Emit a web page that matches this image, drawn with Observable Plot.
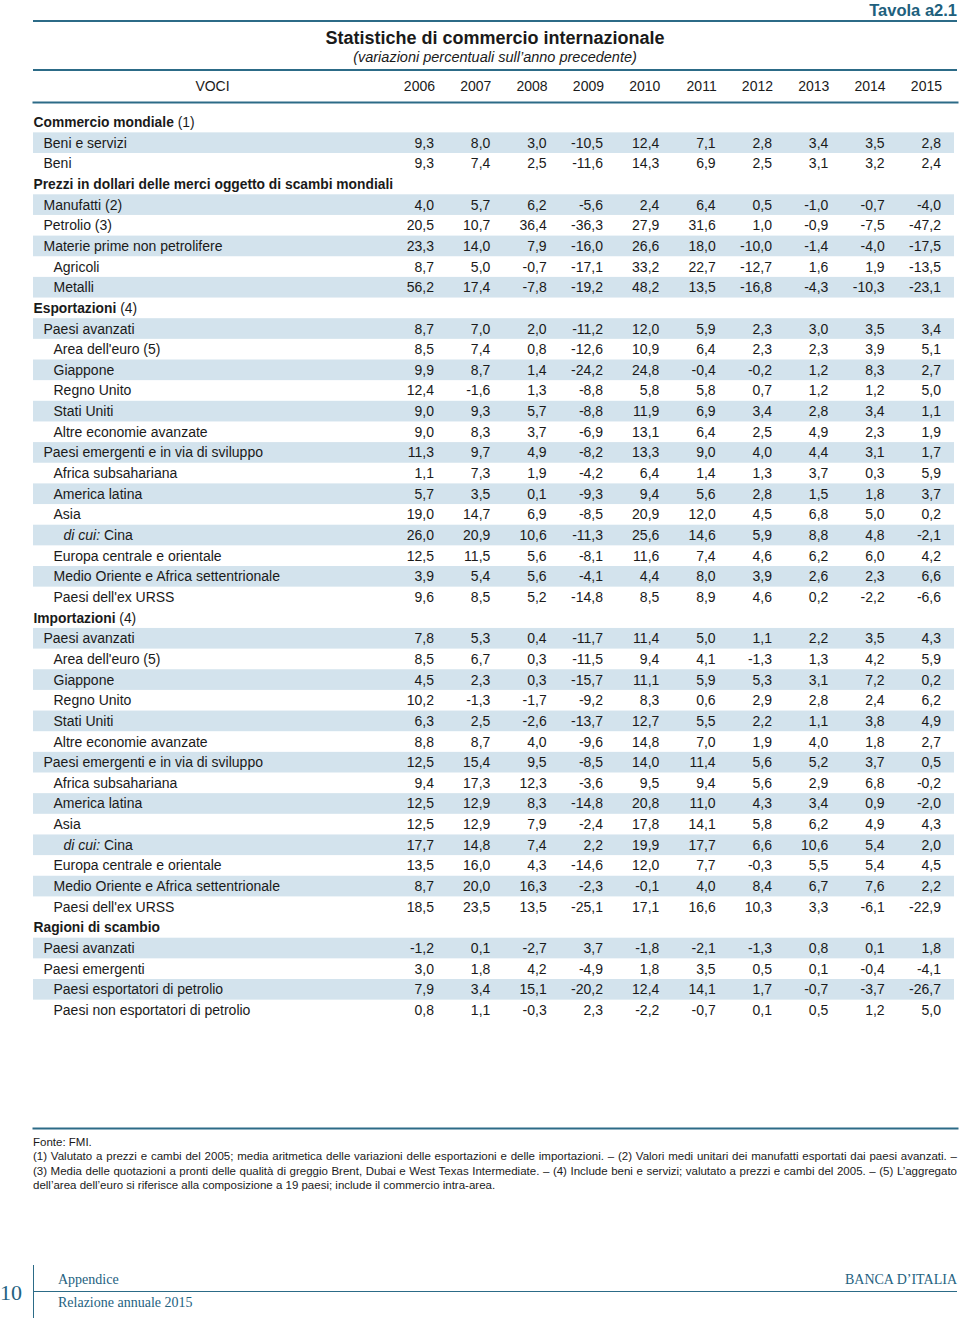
<!DOCTYPE html>
<html>
<head>
<meta charset="utf-8">
<script src="https://cdn.jsdelivr.net/npm/d3@7"></script>
<script src="https://cdn.jsdelivr.net/npm/@observablehq/plot@0.6"></script>
<style>
html,body{margin:0;padding:0;background:#fff;}
body{width:960px;height:1321px;position:relative;overflow:hidden;font-family:"Liberation Sans",Arial,Helvetica,sans-serif;color:#1a1a1a;}
.abs{position:absolute;}
#tavola{right:3px;top:0px;font-weight:bold;font-size:16.5px;line-height:20px;color:#20607d;}
.rule{position:absolute;left:33px;width:924px;height:2px;background:#2c6b87;}
#title{left:33px;width:924px;top:27px;text-align:center;font-weight:bold;font-size:18px;line-height:22px;}
#subtitle{left:33px;width:924px;top:48px;text-align:center;font-style:italic;font-size:14.5px;line-height:18px;}
#chart{left:0;top:72px;}
#notes{left:33px;width:924px;top:1135px;font-family:"Liberation Sans",Arial,sans-serif;font-size:11.5px;line-height:14.3px;color:#1a1a1a;}
#notes div{text-align:justify;text-align-last:justify;white-space:nowrap;}
#notes div.left{text-align:left;text-align-last:left;}
.serif{font-family:"Liberation Serif","DejaVu Serif",serif;color:#24627f;}
#pagenum{left:0px;top:1280px;font-size:22px;line-height:26px;}
#vline{left:33px;top:1265px;width:1px;height:53px;background:#2c6b87;}
#hline{left:33px;top:1291px;width:924px;height:1px;background:#2c6b87;}
#app{left:58px;top:1271px;font-size:14px;line-height:18px;}
#rel{left:58px;top:1294px;font-size:14px;line-height:18px;}
#banca{right:3px;top:1271px;font-size:14px;line-height:18px;}
</style>
</head>
<body>
<div id="tavola" class="abs">Tavola a2.1</div>
<div class="rule" style="top:20px"></div>
<div id="title" class="abs">Statistiche di commercio internazionale</div>
<div id="subtitle" class="abs">(variazioni percentuali sull’anno precedente)</div>
<div class="rule" style="top:69px"></div>
<div id="chart" class="abs"></div>
<div id="notes" class="abs">
<div class="left">Fonte: FMI.</div>
<div>(1) Valutato a prezzi e cambi del 2005; media aritmetica delle variazioni delle esportazioni e delle importazioni. – (2) Valori medi unitari dei manufatti esportati dai paesi avanzati. –</div>
<div>(3) Media delle quotazioni a pronti delle qualità di greggio Brent, Dubai e West Texas Intermediate. – (4) Include beni e servizi; valutato a prezzi e cambi del 2005. – (5) L’aggregato</div>
<div class="left">dell’area dell’euro si riferisce alla composizione a 19 paesi; include il commercio intra-area.</div>
</div>
<div id="pagenum" class="abs serif">10</div>
<div id="vline" class="abs"></div>
<div id="hline" class="abs"></div>
<div id="app" class="abs serif">Appendice</div>
<div id="rel" class="abs serif">Relazione annuale 2015</div>
<div id="banca" class="abs serif">BANCA D’ITALIA</div>
<script>
// ---- Data ----
const years = [2006, 2007, 2008, 2009, 2010, 2011, 2012, 2013, 2014, 2015];

const rowLabels = [
  "Commercio mondiale (1)",
  "Beni e servizi",
  "Beni",
  "Prezzi in dollari delle merci oggetto di scambi mondiali",
  "Manufatti (2)",
  "Petrolio (3)",
  "Materie prime non petrolifere",
  "Agricoli",
  "Metalli",
  "Esportazioni (4)",
  "Paesi avanzati",
  "Area dell'euro (5)",
  "Giappone",
  "Regno Unito",
  "Stati Uniti",
  "Altre economie avanzate",
  "Paesi emergenti e in via di sviluppo",
  "Africa subsahariana",
  "America latina",
  "Asia",
  "di cui: Cina",
  "Europa centrale e orientale",
  "Medio Oriente e Africa settentrionale",
  "Paesi dell'ex URSS",
  "Importazioni (4)",
  "Paesi avanzati",
  "Area dell'euro (5)",
  "Giappone",
  "Regno Unito",
  "Stati Uniti",
  "Altre economie avanzate",
  "Paesi emergenti e in via di sviluppo",
  "Africa subsahariana",
  "America latina",
  "Asia",
  "di cui: Cina",
  "Europa centrale e orientale",
  "Medio Oriente e Africa settentrionale",
  "Paesi dell'ex URSS",
  "Ragioni di scambio",
  "Paesi avanzati",
  "Paesi emergenti",
  "Paesi esportatori di petrolio",
  "Paesi non esportatori di petrolio"
];

// 0 = section header, 1..3 = indentation level
const rowLevels = [
  0, 1, 1,
  0, 1, 1, 1, 2, 2,
  0, 1, 2, 2, 2, 2, 2, 1, 2, 2, 2, 3, 2, 2, 2,
  0, 1, 2, 2, 2, 2, 2, 1, 2, 2, 2, 3, 2, 2, 2,
  0, 1, 1, 2, 2
];

const commercioMondiale = [
  [9.3, 8.0, 3.0, -10.5, 12.4, 7.1, 2.8, 3.4, 3.5, 2.8],
  [9.3, 7.4, 2.5, -11.6, 14.3, 6.9, 2.5, 3.1, 3.2, 2.4]
];

const prezziDollari = [
  [4.0, 5.7, 6.2, -5.6, 2.4, 6.4, 0.5, -1.0, -0.7, -4.0],
  [20.5, 10.7, 36.4, -36.3, 27.9, 31.6, 1.0, -0.9, -7.5, -47.2],
  [23.3, 14.0, 7.9, -16.0, 26.6, 18.0, -10.0, -1.4, -4.0, -17.5],
  [8.7, 5.0, -0.7, -17.1, 33.2, 22.7, -12.7, 1.6, 1.9, -13.5],
  [56.2, 17.4, -7.8, -19.2, 48.2, 13.5, -16.8, -4.3, -10.3, -23.1]
];

const esportazioni = [
  [8.7, 7.0, 2.0, -11.2, 12.0, 5.9, 2.3, 3.0, 3.5, 3.4],
  [8.5, 7.4, 0.8, -12.6, 10.9, 6.4, 2.3, 2.3, 3.9, 5.1],
  [9.9, 8.7, 1.4, -24.2, 24.8, -0.4, -0.2, 1.2, 8.3, 2.7],
  [12.4, -1.6, 1.3, -8.8, 5.8, 5.8, 0.7, 1.2, 1.2, 5.0],
  [9.0, 9.3, 5.7, -8.8, 11.9, 6.9, 3.4, 2.8, 3.4, 1.1],
  [9.0, 8.3, 3.7, -6.9, 13.1, 6.4, 2.5, 4.9, 2.3, 1.9],
  [11.3, 9.7, 4.9, -8.2, 13.3, 9.0, 4.0, 4.4, 3.1, 1.7],
  [1.1, 7.3, 1.9, -4.2, 6.4, 1.4, 1.3, 3.7, 0.3, 5.9],
  [5.7, 3.5, 0.1, -9.3, 9.4, 5.6, 2.8, 1.5, 1.8, 3.7],
  [19.0, 14.7, 6.9, -8.5, 20.9, 12.0, 4.5, 6.8, 5.0, 0.2],
  [26.0, 20.9, 10.6, -11.3, 25.6, 14.6, 5.9, 8.8, 4.8, -2.1],
  [12.5, 11.5, 5.6, -8.1, 11.6, 7.4, 4.6, 6.2, 6.0, 4.2],
  [3.9, 5.4, 5.6, -4.1, 4.4, 8.0, 3.9, 2.6, 2.3, 6.6],
  [9.6, 8.5, 5.2, -14.8, 8.5, 8.9, 4.6, 0.2, -2.2, -6.6]
];

const importazioni = [
  [7.8, 5.3, 0.4, -11.7, 11.4, 5.0, 1.1, 2.2, 3.5, 4.3],
  [8.5, 6.7, 0.3, -11.5, 9.4, 4.1, -1.3, 1.3, 4.2, 5.9],
  [4.5, 2.3, 0.3, -15.7, 11.1, 5.9, 5.3, 3.1, 7.2, 0.2],
  [10.2, -1.3, -1.7, -9.2, 8.3, 0.6, 2.9, 2.8, 2.4, 6.2],
  [6.3, 2.5, -2.6, -13.7, 12.7, 5.5, 2.2, 1.1, 3.8, 4.9],
  [8.8, 8.7, 4.0, -9.6, 14.8, 7.0, 1.9, 4.0, 1.8, 2.7],
  [12.5, 15.4, 9.5, -8.5, 14.0, 11.4, 5.6, 5.2, 3.7, 0.5],
  [9.4, 17.3, 12.3, -3.6, 9.5, 9.4, 5.6, 2.9, 6.8, -0.2],
  [12.5, 12.9, 8.3, -14.8, 20.8, 11.0, 4.3, 3.4, 0.9, -2.0],
  [12.5, 12.9, 7.9, -2.4, 17.8, 14.1, 5.8, 6.2, 4.9, 4.3],
  [17.7, 14.8, 7.4, 2.2, 19.9, 17.7, 6.6, 10.6, 5.4, 2.0],
  [13.5, 16.0, 4.3, -14.6, 12.0, 7.7, -0.3, 5.5, 5.4, 4.5],
  [8.7, 20.0, 16.3, -2.3, -0.1, 4.0, 8.4, 6.7, 7.6, 2.2],
  [18.5, 23.5, 13.5, -25.1, 17.1, 16.6, 10.3, 3.3, -6.1, -22.9]
];

const ragioniScambio = [
  [-1.2, 0.1, -2.7, 3.7, -1.8, -2.1, -1.3, 0.8, 0.1, 1.8],
  [3.0, 1.8, 4.2, -4.9, 1.8, 3.5, 0.5, 0.1, -0.4, -4.1],
  [7.9, 3.4, 15.1, -20.2, 12.4, 14.1, 1.7, -0.7, -3.7, -26.7],
  [0.8, 1.1, -0.3, 2.3, -2.2, -0.7, 0.1, 0.5, 1.2, 5.0]
];

// ---- Build table rows ----
const allValues = [...commercioMondiale, ...prezziDollari, ...esportazioni, ...importazioni, ...ragioniScambio];
const rows = [];
const cells = [];
let vi = 0, k = 0;
rowLabels.forEach((label, i) => {
  const level = rowLevels[i];
  const row = {i, label, level, stripe: false};
  if (level === 0) {
    k = 0;
  } else {
    row.stripe = (k % 2 === 0);
    k++;
    const vals = allValues[vi++];
    vals.forEach((v, j) => cells.push({i, year: years[j], value: v}));
  }
  rows.push(row);
});

const fmt = v => v.toFixed(1).replace(".", ",");
const teal = "#2c6b87";
const stripeFill = "#d3e3ed";
const ink = "#1a1a1a";
const FS = 14;

const levelMarks = [0, 1, 2, 3].map(L =>
  Plot.text(rows.filter(r => r.level === L), {
    y: "i", text: "label", frameAnchor: "left", textAnchor: "start",
    dx: L * 10, fontSize: L === 0 ? 13.8 : FS, fill: ink, fontWeight: L === 0 ? "bold" : "normal"
  })
);

const chart = Plot.plot({
  width: 960,
  height: 1060,
  marginTop: 30,
  marginBottom: 4,
  marginLeft: 33,
  marginRight: 3,
  style: {fontFamily: "'Liberation Sans', Arial, Helvetica, sans-serif", background: "white", color: ink},
  x: {type: "linear", domain: [2006, 2015], range: [433.5, 940.5], label: null},
  y: {type: "band", domain: d3.range(rowLabels.length), range: [39.7, 948.3], padding: 0, round: false, axis: null},
  marks: [
    Plot.cell(rows.filter(r => r.stripe), {y: "i", fill: stripeFill, insetTop: 0, insetBottom: 0, insetLeft: 0, insetRight: 3}),
    Plot.frame({anchor: "top", stroke: teal, strokeWidth: 2}),
    Plot.frame({anchor: "bottom", stroke: teal, strokeWidth: 2}),
    Plot.axisX({anchor: "top", ticks: years, tickFormat: d => String(d), tickSize: 0, tickPadding: 12, textAnchor: "end", dx: 1, fontSize: FS, fill: ink, label: null}),
    Plot.text(["VOCI"], {text: d => d, frameAnchor: "top-left", lineAnchor: "middle", dx: 179, dy: -16, textAnchor: "middle", fontSize: FS, fill: ink}),
    ...levelMarks,
    Plot.text(cells, {x: "year", y: "i", text: d => fmt(d.value), textAnchor: "end", fontSize: FS, fill: ink})
  ]
});

// Mixed styles inside a few labels (bold heading + regular note, italic "di cui:")
const NS = "http://www.w3.org/2000/svg";
chart.querySelectorAll("text").forEach(t => {
  const s = t.textContent;
  const bold = t.closest('g[font-weight="bold"]');
  const m = s.match(/^(.*) (\(\d\))$/);
  if (bold && m) {
    t.textContent = "";
    const a = document.createElementNS(NS, "tspan"); a.textContent = m[1];
    const b = document.createElementNS(NS, "tspan"); b.textContent = " " + m[2]; b.setAttribute("font-weight", "normal");
    t.append(a, b);
  } else if (s === "di cui: Cina") {
    t.textContent = "";
    const a = document.createElementNS(NS, "tspan"); a.textContent = "di cui:"; a.setAttribute("font-style", "italic");
    const b = document.createElementNS(NS, "tspan"); b.textContent = " Cina";
    t.append(a, b);
  }
});

document.getElementById("chart").append(chart);
</script>
</body>
</html>
